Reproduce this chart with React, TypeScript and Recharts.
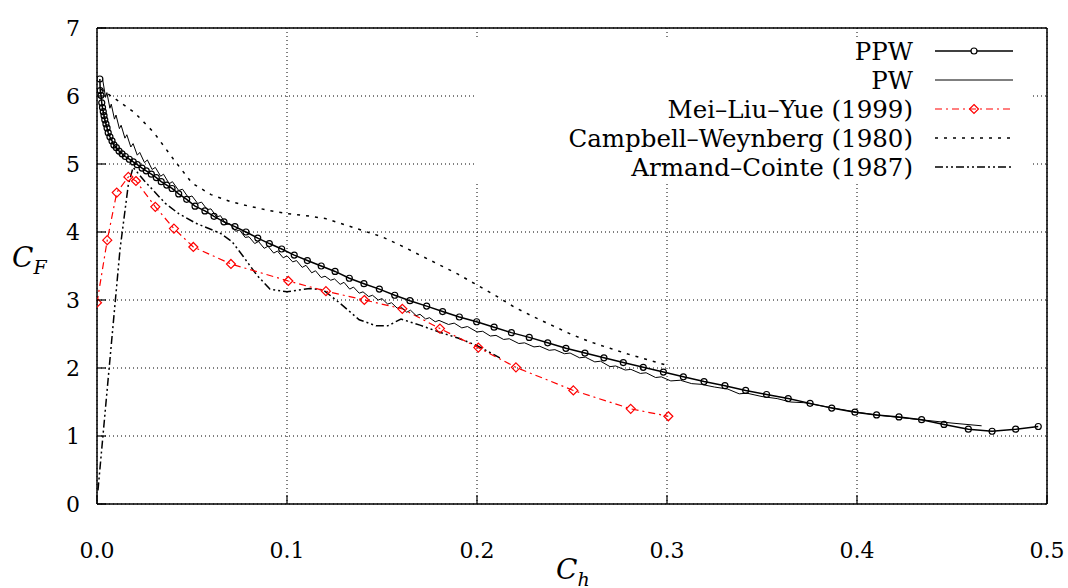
import { LineChart, Line, XAxis, YAxis, CartesianGrid, Legend } from 'recharts'

const FONT = 'DejaVu Serif'

const xTicks = [0, 0.1, 0.2, 0.3, 0.4, 0.5]
const yTicks = [0, 1, 2, 3, 4, 5, 6, 7]

// PPW (circles)
const ppwX = [0.0015, 0.0017, 0.0021, 0.0025, 0.0029, 0.0033, 0.0037, 0.0041, 0.0047, 0.0053, 0.0059, 0.0068, 0.0079, 0.0089, 0.0102, 0.0116, 0.0132, 0.0149, 0.017, 0.0191, 0.0212, 0.0237, 0.0259, 0.0286, 0.0312, 0.0338, 0.0367, 0.0395, 0.043, 0.0472, 0.0516, 0.0568, 0.0616, 0.0668, 0.0726, 0.0784, 0.0846, 0.0907, 0.0972, 0.1038, 0.1107, 0.118, 0.1253, 0.1328, 0.1405, 0.1486, 0.1567, 0.1647, 0.1735, 0.1819, 0.1907, 0.1998, 0.209, 0.2181, 0.2275, 0.2372, 0.2468, 0.2568, 0.2668, 0.277, 0.2875, 0.2981, 0.3086, 0.3195, 0.3305, 0.3414, 0.3524, 0.3638, 0.3753, 0.3867, 0.3989, 0.4103, 0.4221, 0.434, 0.4458, 0.4586, 0.4711, 0.4835, 0.4954]
const ppwY = [6.25, 6.08, 6.01, 5.9, 5.83, 5.77, 5.71, 5.65, 5.59, 5.53, 5.46, 5.4, 5.34, 5.28, 5.24, 5.19, 5.15, 5.11, 5.07, 5.03, 4.99, 4.94, 4.9, 4.85, 4.8, 4.74, 4.69, 4.64, 4.56, 4.48, 4.38, 4.31, 4.23, 4.15, 4.08, 4.0, 3.91, 3.83, 3.75, 3.66, 3.58, 3.5, 3.42, 3.32, 3.24, 3.16, 3.07, 2.99, 2.91, 2.83, 2.75, 2.68, 2.6, 2.52, 2.45, 2.37, 2.29, 2.22, 2.15, 2.08, 2.01, 1.94, 1.87, 1.8, 1.74, 1.67, 1.61, 1.55, 1.48, 1.41, 1.35, 1.31, 1.28, 1.24, 1.17, 1.1, 1.07, 1.1, 1.14]

// PW (thin jagged line)
const pwX = [0.003, 0.0045, 0.0052, 0.0068, 0.0075, 0.0092, 0.01, 0.0118, 0.0127, 0.0147, 0.0157, 0.0178, 0.019, 0.0212, 0.0225, 0.025, 0.0265, 0.029, 0.0307, 0.0335, 0.035, 0.038, 0.0397, 0.043, 0.045, 0.048, 0.05, 0.053, 0.055, 0.058, 0.06, 0.063, 0.065, 0.068, 0.07, 0.073, 0.075, 0.078, 0.08, 0.083, 0.085, 0.088, 0.09, 0.093, 0.095, 0.098, 0.1, 0.103, 0.105, 0.108, 0.11, 0.113, 0.115, 0.118, 0.12, 0.123, 0.125, 0.128, 0.13, 0.133, 0.135, 0.138, 0.14, 0.143, 0.145, 0.148, 0.15, 0.153, 0.155, 0.158, 0.16, 0.163, 0.165, 0.168, 0.17, 0.173, 0.175, 0.178, 0.18, 0.185, 0.188, 0.192, 0.195, 0.2, 0.203, 0.207, 0.21, 0.214, 0.217, 0.222, 0.225, 0.23, 0.233, 0.238, 0.241, 0.246, 0.249, 0.254, 0.257, 0.262, 0.265, 0.27, 0.273, 0.278, 0.281, 0.286, 0.289, 0.294, 0.297, 0.302, 0.307, 0.313, 0.318, 0.325, 0.332, 0.338, 0.342, 0.35, 0.358, 0.365, 0.372, 0.38, 0.39, 0.4, 0.41, 0.42, 0.43, 0.44, 0.45, 0.4656]
const pwY = [6.24, 5.98, 6.05, 5.82, 5.88, 5.66, 5.72, 5.52, 5.57, 5.38, 5.43, 5.25, 5.3, 5.13, 5.17, 5.02, 5.06, 4.92, 4.95, 4.82, 4.85, 4.71, 4.74, 4.61, 4.63, 4.51, 4.53, 4.42, 4.44, 4.33, 4.34, 4.22, 4.24, 4.11, 4.12, 4.01, 4.03, 3.92, 3.93, 3.83, 3.86, 3.76, 3.79, 3.69, 3.72, 3.62, 3.65, 3.56, 3.58, 3.48, 3.51, 3.4, 3.43, 3.33, 3.35, 3.29, 3.31, 3.23, 3.26, 3.16, 3.19, 3.1, 3.12, 3.05, 3.07, 3.0, 3.02, 2.94, 2.96, 2.88, 2.9, 2.82, 2.85, 2.77, 2.79, 2.72, 2.74, 2.68, 2.7, 2.64, 2.66, 2.59, 2.61, 2.53, 2.54, 2.47, 2.48, 2.42, 2.43, 2.36, 2.37, 2.31, 2.32, 2.26, 2.27, 2.21, 2.22, 2.15, 2.16, 2.09, 2.1, 2.02, 2.03, 1.97, 1.98, 1.92, 1.93, 1.86, 1.87, 1.81, 1.82, 1.77, 1.76, 1.72, 1.69, 1.62, 1.63, 1.58, 1.55, 1.5, 1.49, 1.45, 1.4, 1.35, 1.31, 1.28, 1.25, 1.22, 1.19, 1.15]

// Mei-Liu-Yue (1999)
const meiX = [0, 0.0054, 0.0104, 0.0165, 0.0205, 0.0307, 0.0405, 0.0507, 0.0705, 0.1007, 0.1205, 0.1407, 0.1607, 0.1805, 0.2007, 0.2205, 0.2507, 0.2809, 0.3007]
const meiY = [2.96, 3.88, 4.58, 4.81, 4.75, 4.37, 4.05, 3.78, 3.53, 3.28, 3.13, 3.0, 2.87, 2.58, 2.3, 2.01, 1.67, 1.4, 1.29]

// Campbell-Weynberg (1980)
const cwX = [0.002, 0.01, 0.02, 0.03, 0.04, 0.05, 0.06, 0.07, 0.08, 0.09, 0.1, 0.11, 0.12, 0.13, 0.14, 0.15, 0.16, 0.17, 0.18, 0.19, 0.2, 0.21, 0.22, 0.23, 0.24, 0.25, 0.26, 0.27, 0.28, 0.29, 0.3]
const cwY = [6.1, 5.95, 5.75, 5.46, 5.08, 4.72, 4.55, 4.45, 4.38, 4.32, 4.27, 4.24, 4.2, 4.11, 4.02, 3.93, 3.8, 3.66, 3.52, 3.38, 3.22, 3.06, 2.89, 2.75, 2.62, 2.49, 2.38, 2.29, 2.2, 2.12, 2.04]

// Armand-Cointe (1987)
const acX = [0.0005, 0.0121, 0.0165, 0.019, 0.025, 0.03, 0.036, 0.043, 0.052, 0.065, 0.071, 0.077, 0.084, 0.091, 0.1, 0.112, 0.119, 0.128, 0.138, 0.147, 0.153, 0.16, 0.17, 0.18, 0.19, 0.2, 0.212]
const acY = [0.2, 3.74, 4.7, 4.95, 4.75, 4.6, 4.42, 4.27, 4.13, 3.98, 3.86, 3.64, 3.37, 3.16, 3.12, 3.17, 3.15, 2.95, 2.71, 2.62, 2.62, 2.72, 2.63, 2.53, 2.44, 2.33, 2.15]

const toPoints = (xs: number[], ys: number[]) => xs.map((x, i) => ({ x, y: ys[i] }))

const ppw = toPoints(ppwX, ppwY)
const pw = toPoints(pwX, pwY)
const mei = toPoints(meiX, meiY)
const cw = toPoints(cwX, cwY)
const ac = toPoints(acX, acY)

const RED = '#ff0000'
const MEI_DASH = '7 4 2 4'
const CW_DASH = '3 6'
const AC_DASH = '8 3 2 3 2 3'

const Diamond = (props: any) => {
  const { cx, cy } = props
  if (cx == null || cy == null) return null
  const s = 4.5
  return (
    <polygon
      points={`${cx},${cy - s} ${cx + s},${cy} ${cx},${cy + s} ${cx - s},${cy}`}
      fill="none"
      stroke={RED}
      strokeWidth={1.2}
    />
  )
}

const BottomTick = (props: any) => {
  const { x, y, payload } = props
  return (
    <g>
      <line x1={x} y1={y} x2={x} y2={y - 9} stroke="#000" strokeWidth={1.2} />
      <text x={x} y={y + 54} textAnchor="middle" fontFamily={FONT} fontSize={22} fill="#000">
        {payload.value.toFixed(1)}
      </text>
    </g>
  )
}

const TopTick = (props: any) => {
  const { x, y } = props
  return <line x1={x} y1={y} x2={x} y2={y + 9} stroke="#000" strokeWidth={1.2} />
}

const LeftTick = (props: any) => {
  const { x, y, payload } = props
  return (
    <g>
      <line x1={x} y1={y} x2={x + 9} y2={y} stroke="#000" strokeWidth={1.2} />
      <text x={x - 17} y={y + 8} textAnchor="end" fontFamily={FONT} fontSize={22} fill="#000">
        {payload.value}
      </text>
    </g>
  )
}

const RightTick = (props: any) => {
  const { x, y } = props
  return <line x1={x} y1={y} x2={x - 9} y2={y} stroke="#000" strokeWidth={1.2} />
}

const legendRows = [
  { name: 'PPW', color: '#000', dash: undefined, width: 1.5, mark: 'circle' },
  { name: 'PW', color: '#000', dash: undefined, width: 1, mark: '' },
  { name: 'Mei–Liu–Yue (1999)', color: RED, dash: MEI_DASH, width: 1.2, mark: 'diamond' },
  { name: 'Campbell–Weynberg (1980)', color: '#000', dash: CW_DASH, width: 1.5, mark: '' },
  { name: 'Armand–Cointe (1987)', color: '#000', dash: AC_DASH, width: 1.5, mark: '' },
]

const LegendBox = () => (
  <svg width={554} height={146} style={{ display: 'block', background: '#fff' }}>
    {legendRows.map((row, i) => {
      const cy = 14 + i * 29
      return (
        <g key={row.name}>
          <text x={437} y={cy + 9} textAnchor="end" fontFamily={FONT} fontSize={24.5} fill="#000">
            {row.name}
          </text>
          <line x1={459} y1={cy} x2={537} y2={cy} stroke={row.color} strokeWidth={row.width} strokeDasharray={row.dash} />
          {row.mark === 'circle' && <circle cx={498} cy={cy} r={3} fill="#fff" stroke="#000" strokeWidth={1.2} />}
          {row.mark === 'diamond' && <Diamond cx={498} cy={cy} />}
        </g>
      )
    })}
  </svg>
)

export default function App() {
  return (
    <div style={{ position: 'absolute', left: 0, top: 0, width: 1068, height: 588, background: '#fff', fontFamily: FONT }}>
      <LineChart width={1068} height={588} margin={{ top: 27, right: 20, bottom: 83, left: 96 }}>
        <CartesianGrid stroke="#000" strokeDasharray="1 3" strokeWidth={1} />
        <XAxis
          dataKey="x"
          type="number"
          domain={[0, 0.5]}
          ticks={xTicks}
          interval={0}
          height={1}
          tickSize={0}
          tickMargin={0}
          tickLine={false}
          tick={<BottomTick />}
          axisLine={{ stroke: '#000', strokeWidth: 1.5 }}
          allowDataOverflow
        />
        <XAxis
          xAxisId="top"
          orientation="top"
          dataKey="x"
          type="number"
          domain={[0, 0.5]}
          ticks={xTicks}
          interval={0}
          height={1}
          tickSize={0}
          tickMargin={0}
          tickLine={false}
          tick={<TopTick />}
          axisLine={{ stroke: '#000', strokeWidth: 1.5 }}
        />
        <YAxis
          type="number"
          domain={[0, 7]}
          ticks={yTicks}
          interval={0}
          width={1}
          tickSize={0}
          tickMargin={0}
          tickLine={false}
          tick={<LeftTick />}
          axisLine={{ stroke: '#000', strokeWidth: 1.5 }}
          allowDataOverflow
        />
        <YAxis
          yAxisId="right"
          orientation="right"
          type="number"
          domain={[0, 7]}
          ticks={yTicks}
          interval={0}
          width={1}
          tickSize={0}
          tickMargin={0}
          tickLine={false}
          tick={<RightTick />}
          axisLine={{ stroke: '#000', strokeWidth: 1.5 }}
        />
        <Legend
          layout="vertical"
          align="center"
          verticalAlign="middle"
          content={<LegendBox />}
          wrapperStyle={{ left: 476, top: 37, width: 554, height: 146 }}
        />
        <Line data={cw} dataKey="y" name="Campbell–Weynberg (1980)" type="linear" stroke="#000" strokeWidth={1.5} strokeDasharray={CW_DASH} dot={false} isAnimationActive={false} />
        <Line data={ac} dataKey="y" name="Armand–Cointe (1987)" type="linear" stroke="#000" strokeWidth={1.5} strokeDasharray={AC_DASH} dot={false} isAnimationActive={false} />
        <Line data={mei} dataKey="y" name="Mei–Liu–Yue (1999)" type="linear" stroke={RED} strokeWidth={1.2} strokeDasharray={MEI_DASH} dot={<Diamond />} isAnimationActive={false} />
        <Line data={pw} dataKey="y" name="PW" type="linear" stroke="#000" strokeWidth={1} dot={false} isAnimationActive={false} />
        <Line data={ppw} dataKey="y" name="PPW" type="linear" stroke="#000" strokeWidth={1.5} dot={{ r: 3, stroke: '#000', strokeWidth: 1.2, fill: 'none' }} isAnimationActive={false} />
      </LineChart>
      <div style={{ position: 'absolute', left: 12, top: 244, fontSize: 28, fontStyle: 'italic', lineHeight: 1 }}>
        C<sub style={{ fontSize: 19 }}>F</sub>
      </div>
      <div style={{ position: 'absolute', left: 556, top: 556, fontSize: 28, fontStyle: 'italic', lineHeight: 1 }}>
        C<sub style={{ fontSize: 19 }}>h</sub>
      </div>
    </div>
  )
}
